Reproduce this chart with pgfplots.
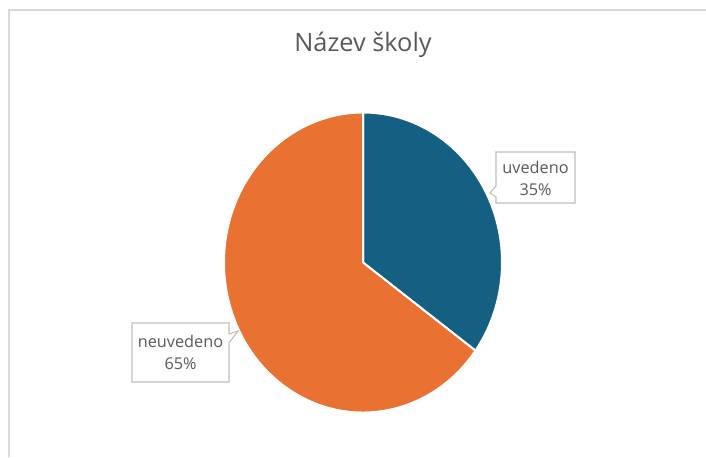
\documentclass[border=0pt]{standalone}
\usepackage{pgfplots}
\pgfplotsset{compat=1.18}
\usepackage{fontspec}
\setmainfont{Open Sans}
\definecolor{sliceA}{HTML}{156082}
\definecolor{sliceB}{HTML}{E97132}
\definecolor{txt}{HTML}{595959}
\definecolor{frame}{HTML}{D9D9D9}
\definecolor{boxline}{HTML}{BFBFBF}
% share of "uvedeno" in percent
\def\shareA{35}
\begin{document}
\begin{tikzpicture}
\pgfmathsetmacro{\endA}{90-3.6*\shareA}
\begin{axis}[scale only axis, width=529.5pt, height=342.75pt,
  xmin=0, xmax=706, ymin=0, ymax=457, y dir=reverse,
  hide axis, clip=false]
% chart frame (only top and left edges visible)
\draw[frame, line width=1.2pt] (axis cs:9,457) -- (axis cs:9,10) -- (axis cs:706,10);
% title
\node[txt, font=\fontsize{19}{22}\selectfont] at (axis cs:363,45) {Název školy};
% pie
\fill[sliceA, draw=white, line width=1.5pt] (axis cs:363,262.5) -- ++(0,112.5pt)
  arc[start angle=90, end angle=\endA, x radius=104.25pt, y radius=112.5pt] -- cycle;
\fill[sliceB, draw=white, line width=1.5pt] (axis cs:363,262.5) -- ++(\endA:104.25pt and 112.5pt)
  arc[start angle=\endA, end angle=-270, x radius=104.25pt, y radius=112.5pt] -- cycle;
% callouts
\draw[boxline, fill=white, line width=0.8pt] (axis cs:496,152) -- (axis cs:575,152) -- (axis cs:575,203)
  -- (axis cs:496,203) -- (axis cs:496,197) -- (axis cs:490,193) -- (axis cs:496,186) -- cycle;
\node[txt, font=\fontsize{12.2}{16.5}\selectfont, align=center] at (axis cs:535.5,178) {uvedeno\\35\%};
\draw[boxline, fill=white, line width=0.8pt] (axis cs:132,323) -- (axis cs:229,323) -- (axis cs:229,334)
  -- (axis cs:238,331) -- (axis cs:229,343) -- (axis cs:229,382) -- (axis cs:132,382) -- cycle;
\node[txt, font=\fontsize{12.2}{16.5}\selectfont, align=center] at (axis cs:180.5,352) {neuvedeno\\65\%};
\end{axis}
\pgfresetboundingbox
\path (current axis.south west) rectangle (current axis.north east);
\end{tikzpicture}
\end{document}
